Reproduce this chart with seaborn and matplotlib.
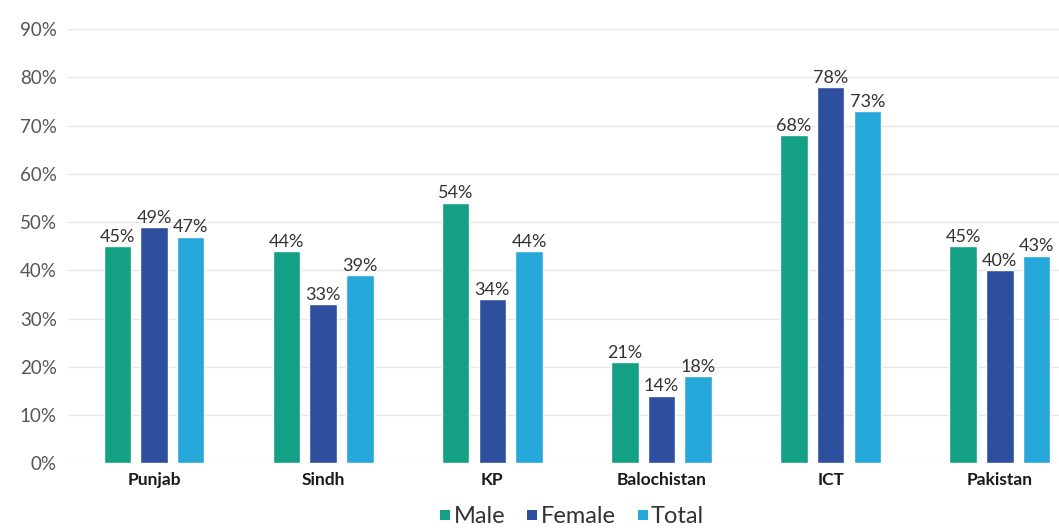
import pandas as pd
import matplotlib
matplotlib.use('Agg')
import matplotlib.pyplot as plt
import seaborn as sns

regions = ['Punjab', 'Sindh', 'KP', 'Balochistan', 'ICT', 'Pakistan']
male = [45, 44, 54, 21, 68, 45]
female = [49, 33, 34, 14, 78, 40]
total = [47, 39, 44, 18, 73, 43]
y_ticks = [0, 10, 20, 30, 40, 50, 60, 70, 80, 90]

colors = {'Male': '#14a085', 'Female': '#2e4f9e', 'Total': '#27a8da'}


def main():
    sns.set_style('white')
    plt.rcParams['font.family'] = ['Lato', 'DejaVu Sans']

    df = pd.DataFrame({'region': regions, 'Male': male, 'Female': female, 'Total': total})
    df = df.melt(id_vars='region', var_name='group', value_name='value')

    fig = plt.figure(figsize=(10.59, 5.3), dpi=100)
    ax = fig.add_axes([0.064, 0.126, 0.936, 0.819])

    sns.barplot(data=df, x='region', y='value', hue='group', palette=colors,
                width=0.65, gap=0.25, ax=ax, legend=False, saturation=1)

    for c in ax.containers:
        ax.bar_label(c, labels=[f'{int(v)}%' for v in c.datavalues],
                     padding=1, fontsize=13, color='#333333')

    ax.set_ylim(0, 90)
    ax.set_xlim(-0.51, 5.35)
    ax.set_yticks(y_ticks)
    ax.set_yticklabels([f'{t}%' for t in y_ticks], fontsize=13.5, color='#555555')
    ax.tick_params(axis='x', labelsize=12.5, colors='#1a1a1a', length=0, pad=6)
    ax.tick_params(axis='y', length=0, pad=8)
    for lbl in ax.get_xticklabels():
        lbl.set_fontweight('bold')
    ax.grid(axis='y', color='#e6e6e6', linewidth=1)
    ax.set_axisbelow(True)
    sns.despine(ax=ax, left=True, bottom=True)
    ax.set_xlabel('')
    ax.set_ylabel('')

    # small square markers for the legend, like the original
    handles = [plt.Line2D([], [], marker='s', linestyle='none', markersize=7,
                          markerfacecolor=colors[k], markeredgewidth=0)
               for k in ['Male', 'Female', 'Total']]
    fig.legend(handles, ['Male', 'Female', 'Total'], loc='lower center',
               bbox_to_anchor=(0.54, -0.035), ncol=3, frameon=False, fontsize=17,
               handlelength=0.5, handletextpad=0.1,
               columnspacing=0.9, labelcolor='#333333')

    fig.savefig('out.png', dpi=100)


if __name__ == "__main__":
    main()
